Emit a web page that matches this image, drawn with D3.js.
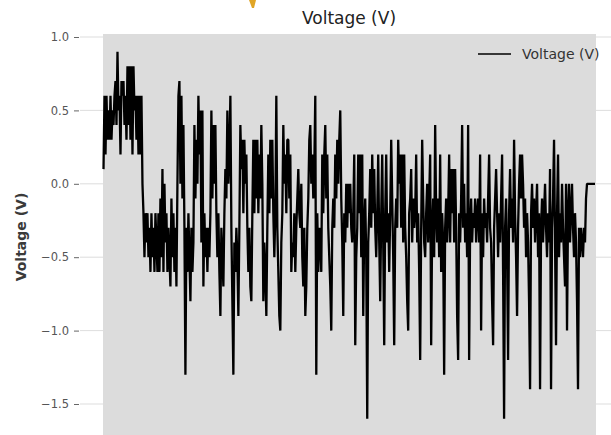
<!DOCTYPE html>
<html>
<head>
<meta charset="utf-8">
<script src="https://cdn.jsdelivr.net/npm/d3@7"></script>
<style>
  body { margin: 0; background: #ffffff; }
  text { font-family: "DejaVu Sans", sans-serif; }
</style>
</head>
<body>
<div id="chart"></div>
<script>
// Data
var seriesName = "Voltage (V)";
var yTicks = [1.0, 0.5, 0.0, -0.5, -1.0, -1.5];
var voltage = [
  // start, high section
  0.1,0.6,0.2,0.6,0.3,0.5,0.3,0.6,0.3,0.5,
  0.4,0.6,0.7,0.4,0.9,0.5,0.6,0.2,0.7,0.6,
  0.7,0.4,0.6,0.3,0.8,0.4,0.8,0.3,0.8,0.2,
  0.8,0.5,0.6,0.3,0.6,0.2,0.6,0.2,0.6,0.0,
  // drop
  -0.2,-0.5,-0.2,-0.4,-0.2,-0.5,-0.3,-0.6,-0.2,-0.5,
  -0.3,-0.6,-0.2,-0.4,-0.6,-0.2,-0.6,-0.1,-0.5,0.1,
  -0.6,0.0,-0.4,-0.2,-0.6,-0.3,-0.5,-0.7,-0.1,-0.5,
  -0.2,-0.6,-0.3,-0.7,
  0.0,0.6,0.7,0.0,0.6,-0.1,0.4,-0.3,-1.3,-0.3,
  -0.6,-0.2,-0.5,-0.8,-0.3,-0.6,-0.4,0.4,-0.1,0.3,
  0.0,0.6,0.2,0.5,
  -0.4,0.5,-0.7,-0.2,-0.5,-0.3,-0.6,-0.3,-0.5,-0.2,
  0.5,-0.1,0.4,0.0,0.4,-0.2,-0.5,-0.2,-0.6,-0.9,
  -0.3,-0.5,-0.7,-0.2,0.1,-0.1,0.5,0.0,0.2,0.6,
  -0.3,-0.8,-1.3,-0.4,-0.6,-0.3,-0.5,-0.9,-0.3,0.4,
  0.1,0.3,-0.2,0.3,0.0,0.2,-0.3,-0.6,-0.3,-0.7,
  -0.8,-0.2,0.3,-0.2,0.3,-0.1,0.3,-0.2,0.2,-0.1,
  0.4,0.0,-0.8,-0.4,-0.6,-0.9,-0.3,0.2,-0.2,0.3,
  -0.1,0.3,-0.2,-0.5,-0.2,0.6,-0.3,-0.6,-0.9,-1.0,
  -0.4,-0.2,0.4,0.0,0.2,-0.2,0.3,0.3,-0.1,0.2,
  -0.6,-0.4,-0.5,-0.2,-0.6,-0.3,-0.1,0.1,
  -0.2,-0.3,0.0,-0.5,-0.7,-0.3,-0.9,-0.7,-0.3,-0.1,
  0.3,0.4,0.0,0.2,-0.1,0.1,0.6,-1.3,-0.2,-0.6,
  -0.3,-0.4,-0.6,0.2,-0.2,0.2,0.4,-0.1,0.2,-0.3,
  -0.5,-0.7,-1.0,-0.3,-0.1,-0.3,0.2,-0.1,0.3,0.0,
  0.3,0.5,-0.1,-0.4,-0.9,-0.2,-0.4,0.0,-0.3,0.0,
  -0.2,0.0,-0.3,-0.4,-0.2,0.2,-1.1,-0.5,-0.3,0.2,
  -0.2,0.2,-0.5,0.2,-0.9,-0.3,-0.1,-0.5,-1.6,-0.4,
  -0.2,0.1,-0.3,0.2,-0.2,0.1,-0.3,-0.5,-0.2,0.2,
  -0.4,-0.8,-0.2,0.2,-0.4,-1.1,-0.2,0.2,-0.4,-0.2,
  -0.6,-0.2,0.3,-0.1,-0.5,-1.1,-0.3,-0.1,-0.3,0.3,
  0.0,0.2,-0.3,0.2,-0.4,0.2,-0.3,-0.5,-0.8,-1.0,
  -0.2,-0.1,0.1,-0.4,-0.1,-0.3,-0.2,0.2,-0.4,-0.2,
  -0.6,-1.2,-0.3,0.3,-0.1,-0.4,-0.5,-0.2,0.0,-0.4,
  -0.1,0.2,-1.1,-0.3,-0.1,-0.5,0.4,-0.2,-0.4,-0.1,
  -0.5,0.2,-0.6,-0.2,-0.4,-1.3,-0.3,-0.1,-0.4,-0.2,
  0.2,-0.4,0.1,-0.2,0.1,-0.4,0.1,-0.3,-0.9,-1.2,
  -0.2,-0.4,-0.1,0.4,-0.3,0.0,-0.4,-0.2,-0.5,0.4,
  -1.2,-0.3,-0.1,-0.4,-0.2,-0.3,-0.1,-0.4,-0.2,-0.1,
  -0.4,0.2,-1.0,-0.2,-0.5,-0.1,-0.3,-0.2,-0.4,-0.1,
  0.2,-0.3,-0.4,-0.8,-1.1,-0.3,-0.1,0.1,-0.2,-0.5,
  -0.2,-0.4,-0.1,0.2,-0.6,-1.6,-0.3,-0.1,-0.5,-1.2,
  -0.2,0.1,-0.3,-0.1,-0.4,0.3,-0.2,-0.5,-0.9,-0.3,
  0.0,0.2,-0.1,0.2,0.0,-0.3,-0.1,-0.5,-0.2,-0.4,
  -0.8,-1.4,-0.2,0.0,-0.3,-0.1,-0.4,-0.2,0.0,-0.5,
  -0.2,-1.4,-0.3,-0.1,-0.4,-0.2,0.0,-0.3,-0.5,-0.2,
  -0.4,0.1,-1.4,-0.3,-0.1,0.3,-0.4,-1.1,-0.2,0.2,
  -0.5,-0.2,-0.4,0.0,-0.3,-0.5,-0.7,0.0,-1.0,-0.2,
  0.0,-0.4,-0.2,0.0,-0.3,-0.5,-0.2,-0.4,-0.8,-1.4,
  -0.3,-0.5,-0.3,-0.4,-0.5,-0.3,-0.4,-0.1,0.0,0.0,
  // flat end
  0.0,0.0,0.0,0.0,0.0,0.0,0.0
];

// Common
var width = 611;
var height = 435;
var plotLeft = 103, plotRight = 596, plotTop = 34;

var svg = d3.select("#chart").append("svg")
  .attr("width", width)
  .attr("height", height);

var x = d3.scaleLinear()
  .domain([0, voltage.length - 1])
  .range([plotLeft + 0.5, plotRight - 1]);

var y = d3.scaleLinear()
  .domain([-1.5, 1.0])
  .range([404, 37]);

var fmt = function(d) { return d3.format(".1f")(d).replace("-", "\u2212"); };

// gridlines (only show outside the gray box)
svg.append("g").selectAll("line")
  .data(yTicks)
  .enter().append("line")
  .attr("x1", 80).attr("x2", width)
  .attr("y1", function(d) { return y(d); })
  .attr("y2", function(d) { return y(d); })
  .attr("stroke", "#d4d4d4")
  .attr("stroke-width", 0.8);

// plot background
svg.append("rect")
  .attr("x", plotLeft)
  .attr("y", plotTop)
  .attr("width", plotRight - plotLeft)
  .attr("height", height - plotTop)
  .attr("fill", "#dcdcdc");

// y axis
var yAxis = svg.append("g")
  .attr("transform", "translate(79,0)")
  .call(d3.axisLeft(y).tickValues(yTicks).tickFormat(fmt).tickSize(5).tickPadding(5));

yAxis.select(".domain").remove();
yAxis.selectAll(".tick line").attr("stroke", "#555").attr("stroke-width", 0.9);
yAxis.selectAll(".tick text")
  .attr("fill", "#555")
  .style("font-size", "11.5px")
  .style("font-family", "DejaVu Sans");

// line
var line = d3.line()
  .x(function(d, i) { return x(i); })
  .y(function(d) { return y(d); });

svg.append("path")
  .datum(voltage)
  .attr("d", line)
  .attr("fill", "none")
  .attr("stroke", "#000")
  .attr("stroke-width", 2.3)
  .attr("stroke-linejoin", "bevel");

// title + labels
svg.append("text")
  .attr("x", 349)
  .attr("y", 24)
  .attr("text-anchor", "middle")
  .attr("fill", "#222")
  .style("font-size", "17px")
  .text(seriesName);

svg.append("text")
  .attr("transform", "translate(26,237) rotate(-90)")
  .attr("text-anchor", "middle")
  .attr("fill", "#3a3a3a")
  .style("font-size", "14px")
  .style("font-weight", "bold")
  .text(seriesName);

// legend
svg.append("line")
  .attr("x1", 478).attr("x2", 511)
  .attr("y1", 54).attr("y2", 54)
  .attr("stroke", "#000")
  .attr("stroke-width", 1.5);

svg.append("text")
  .attr("x", 522)
  .attr("y", 59)
  .attr("fill", "#333")
  .style("font-size", "14px")
  .text(seriesName);

// cut-off icon at the top
svg.append("path")
  .attr("d", "M249,0 L256,0 L254,8 L252,8 Z")
  .attr("fill", "#e0a526");
</script>
</body>
</html>
